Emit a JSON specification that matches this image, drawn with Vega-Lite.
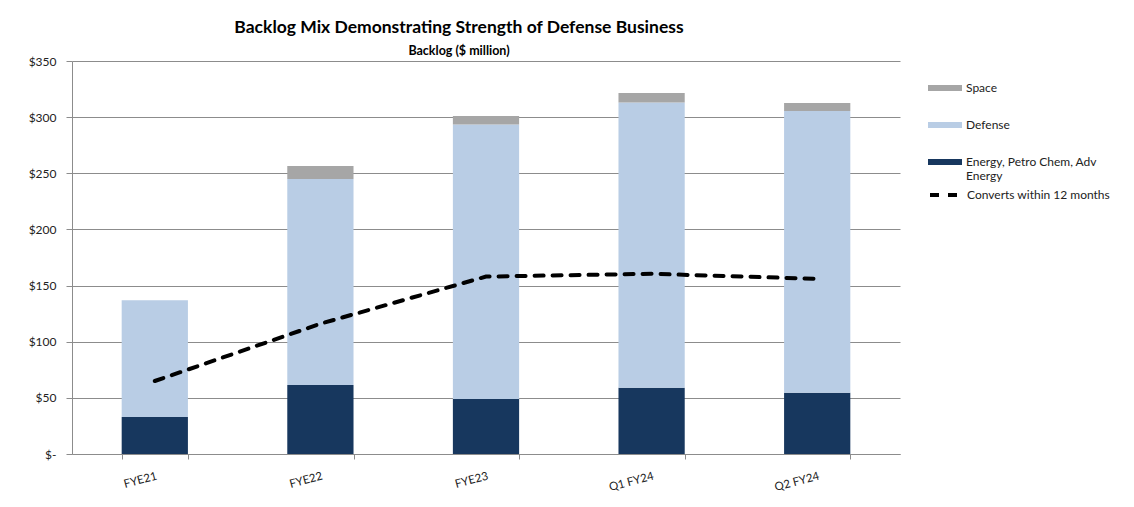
{
  "$schema": "https://vega.github.io/schema/vega-lite/v6.json",
  "width": 828,
  "height": 393,
  "autosize": "none",
  "padding": {"left": 72, "top": 61, "right": 234, "bottom": 53},
  "background": "white",
  "config": {"font": "Lato", "view": {"stroke": null}},
  "title": {
    "text": "Backlog Mix Demonstrating Strength of Defense Business",
    "subtitle": "Backlog ($ million)",
    "anchor": "middle",
    "dx": -27,
    "fontSize": 17.5,
    "fontWeight": "bold",
    "color": "black",
    "subtitleFontSize": 12.5,
    "subtitleFontWeight": "bold",
    "subtitleColor": "black",
    "subtitlePadding": 8,
    "offset": -2
  },
  "datasets": {
    "backlog": [
      {"period": "FYE21", "segment": "Energy, Petro Chem, Adv Energy", "value": 33},
      {"period": "FYE21", "segment": "Defense", "value": 104},
      {"period": "FYE21", "segment": "Space", "value": 0},
      {"period": "FYE22", "segment": "Energy, Petro Chem, Adv Energy", "value": 61.5},
      {"period": "FYE22", "segment": "Defense", "value": 183.5},
      {"period": "FYE22", "segment": "Space", "value": 11.5},
      {"period": "FYE23", "segment": "Energy, Petro Chem, Adv Energy", "value": 49},
      {"period": "FYE23", "segment": "Defense", "value": 244.5},
      {"period": "FYE23", "segment": "Space", "value": 7.5},
      {"period": "Q1 FY24", "segment": "Energy, Petro Chem, Adv Energy", "value": 59},
      {"period": "Q1 FY24", "segment": "Defense", "value": 254},
      {"period": "Q1 FY24", "segment": "Space", "value": 8.5},
      {"period": "Q2 FY24", "segment": "Energy, Petro Chem, Adv Energy", "value": 54.5},
      {"period": "Q2 FY24", "segment": "Defense", "value": 251},
      {"period": "Q2 FY24", "segment": "Space", "value": 7}
    ],
    "converts": [
      {"period": "FYE21", "converts": 65},
      {"period": "FYE22", "converts": 116},
      {"period": "FYE23", "converts": 158},
      {"period": "Q1 FY24", "converts": 160.5},
      {"period": "Q2 FY24", "converts": 156}
    ]
  },
  "layer": [
    {
      "data": {"name": "backlog"},
      "transform": [
        {"calculate": "indexof(['Energy, Petro Chem, Adv Energy', 'Defense', 'Space'], datum.segment)", "as": "stackRank"}
      ],
      "mark": {"type": "bar"},
      "encoding": {
        "x": {
          "field": "period",
          "type": "nominal",
          "sort": ["FYE21", "FYE22", "FYE23", "Q1 FY24", "Q2 FY24"],
          "scale": {"paddingInner": 0.6, "paddingOuter": 0.3},
          "axis": {
            "title": null,
            "labelAngle": -15,
            "labelAlign": "right",
            "labelBaseline": "top",
            "tickBand": "extent",
            "tickSize": 5,
            "domainColor": "#8c8c8c",
            "tickColor": "#8c8c8c",
            "labelFontSize": 11.5,
            "labelPadding": 11,
            "labelColor": "#222222",
            "grid": false
          }
        },
        "y": {
          "field": "value",
          "type": "quantitative",
          "stack": "zero",
          "scale": {"domain": [0, 350], "nice": false},
          "axis": {
            "title": null,
            "values": [0, 50, 100, 150, 200, 250, 300, 350],
            "labelExpr": "datum.value == 0 ? '$-' : '$' + datum.value",
            "grid": true,
            "gridColor": "#8c8c8c",
            "domainColor": "#8c8c8c",
            "tickColor": "#8c8c8c",
            "tickSize": 6,
            "labelPadding": 10,
            "labelFontSize": 12,
            "labelColor": "#222222"
          }
        },
        "order": {"field": "stackRank", "type": "quantitative", "sort": "ascending"},
        "color": {
          "field": "segment",
          "type": "nominal",
          "sort": ["Space", "Defense", "Energy, Petro Chem, Adv Energy"],
          "scale": {
            "range": ["#A6A6A6", "#B9CDE5", "#17375E"]
          },
          "legend": {
            "title": null,
            "orient": "none",
            "legendX": 856,
            "legendY": 10,
            "padding": 0,
            "symbolType": "M-1,-0.18L1,-0.18L1,0.18L-1,0.18Z",
            "symbolSize": 1156,
            "symbolStrokeWidth": 0,
            "labelFontSize": 12,
            "labelColor": "#222222",
            "labelOffset": 4,
            "labelLimit": 250,
            "rowPadding": 14,
            "labelExpr": "datum.label == 'Energy, Petro Chem, Adv Energy' ? ['Energy, Petro Chem, Adv', 'Energy'] : datum.label"
          }
        }
      }
    },
    {
      "data": {"name": "converts"},
      "mark": {"type": "line", "color": "black", "strokeWidth": 4, "strokeCap": "round"},
      "encoding": {
        "x": {"field": "period", "type": "nominal", "sort": ["FYE21", "FYE22", "FYE23", "Q1 FY24", "Q2 FY24"]},
        "y": {"field": "converts", "type": "quantitative"},
        "strokeDash": {
          "datum": "Converts within 12 months",
          "scale": {"range": [[9, 9]]},
          "legend": {
            "title": null,
            "orient": "none",
            "legendX": 856,
            "legendY": 115,
            "padding": 0,
            "symbolType": "stroke",
            "symbolSize": 1156,
            "symbolStrokeWidth": 4,
            "symbolStrokeColor": "black",
            "labelFontSize": 12,
            "labelColor": "#222222",
            "labelOffset": 1,
            "labelLimit": 250
          }
        }
      }
    }
  ]
}
